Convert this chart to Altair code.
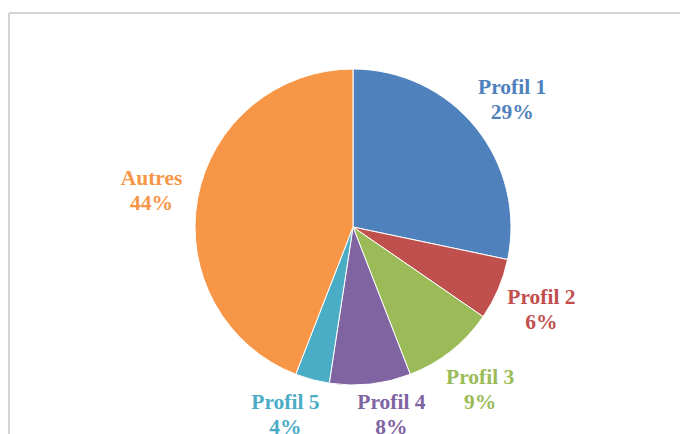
import altair as alt
import pandas as pd

categories = ["Profil 1", "Profil 2", "Profil 3", "Profil 4", "Profil 5", "Autres"]
values = [28.3, 6.3, 9.5, 8.3, 3.5, 44.1]
pct_labels = ["29%", "6%", "9%", "8%", "4%", "44%"]
colors = ["#4F81BD", "#C0504D", "#9BBB59", "#8064A2", "#4BACC6", "#F79646"]

df = pd.DataFrame({"cat": categories, "value": values, "pct": pct_labels, "idx": list(range(len(categories)))})
df["label"] = df["cat"] + "\n" + df["pct"]

W, H = 672, 426
CX, CY = 345, 219
LABEL_R = 205
BOTTOM_LIMIT = 186  # labels near the bottom are pulled in so they stay on the page
GAP = 106           # minimum horizontal spacing between neighbouring bottom labels

color = alt.Color("cat:N", scale=alt.Scale(domain=categories, range=colors), legend=None)
order = alt.Order("idx:Q")

base = alt.Chart(df)

arcs = base.mark_arc(radius=158, stroke="white", strokeWidth=1).encode(
    theta=alt.Theta("value:Q", stack=True), order=order, color=color,
    x=alt.value(CX), y=alt.value(CY)
)

labels = base.transform_window(
    cum="sum(value)", sort=[alt.SortField("idx")]
).transform_joinaggregate(
    total="sum(value)"
).transform_calculate(
    mid="(datum.cum - datum.value / 2) / datum.total * 2 * PI"
).transform_calculate(
    c="cos(datum.mid)"
).transform_calculate(
    lr=f"datum.c < 0 ? min({LABEL_R}, {BOTTOM_LIMIT} / (-datum.c)) : {LABEL_R}"
).transform_calculate(
    lx0="datum.lr * sin(datum.mid)",
    ly="-datum.lr * datum.c",
).transform_window(
    prevx="lag(lx0)", nextx="lead(lx0)", prevc="lag(c)", nextc="lead(c)",
    sort=[alt.SortField("idx")], frame=[None, None]
).transform_calculate(
    pushp=f"(datum.prevx != null && datum.c < -0.9 && datum.prevc < -0.9 && datum.prevx - datum.lx0 < {GAP}) ? ({GAP} - (datum.prevx - datum.lx0)) / 2 : 0",
    pushn=f"(datum.nextx != null && datum.c < -0.9 && datum.nextc < -0.9 && datum.lx0 - datum.nextx < {GAP}) ? ({GAP} - (datum.lx0 - datum.nextx)) / 2 : 0",
).transform_calculate(
    tx=f"{CX} + datum.lx0 - datum.pushp + datum.pushn",
    ty=f"{CY} + datum.ly",
).mark_text(
    fontSize=21.5, fontWeight="bold", font="Liberation Serif",
    lineBreak="\n", lineHeight=25, align="center", baseline="middle", dy=-10
).encode(
    x=alt.X("tx:Q", scale=None, axis=None),
    y=alt.Y("ty:Q", scale=None, axis=None),
    color=color, text="label:N",
)

frame_df = pd.DataFrame({"a": [0]})
top_rule = alt.Chart(frame_df).mark_rule(color="#d4d4d4", strokeWidth=2).encode(
    x=alt.value(1), x2=alt.value(W), y=alt.value(5)
)
left_rule = alt.Chart(frame_df).mark_rule(color="#d4d4d4", strokeWidth=2).encode(
    x=alt.value(1), y=alt.value(5), y2=alt.value(H)
)

chart = alt.layer(top_rule, left_rule, arcs, labels).properties(
    width=W, height=H, padding=0, autosize=alt.AutoSizeParams(type="none")
).configure_view(stroke=None)

chart.save("out.html", embed_options={"renderer": "svg", "actions": False})
